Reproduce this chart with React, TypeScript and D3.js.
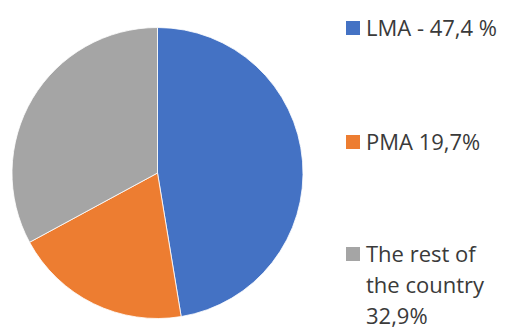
import React from "react";
import * as d3 from "d3";

const labels = ["LMA", "PMA", "The rest of the country"];
const values = [47.4, 19.7, 32.9];
const legendLines = [["LMA - 47,4 %"], ["PMA 19,7%"], ["The rest of", "the country", "32,9%"]];
const colors = ["#4472C4", "#ED7D31", "#A5A5A5"];

export default function App() {
  const W = 510, H = 332;
  const cx = 157.5, cy = 173, r = 145.5;
  const pie = d3.pie<number>().sort(null).value((d) => d)(values);
  const arc = d3.arc<d3.PieArcDatum<number>>().innerRadius(0).outerRadius(r);
  const baselines = [36, 150, 262];
  const lineH = 31;
  return (
    <svg width={W} height={H} style={{ position: "absolute", left: 0, top: 0, background: "#fff" }}>
      <g transform={`translate(${cx},${cy})`}>
        {pie.map((p, i) => (
          <path key={labels[i]} d={arc(p) || ""} fill={colors[i]} stroke="#fff" strokeWidth={0.8} />
        ))}
      </g>
      {legendLines.map((lines, i) => (
        <g key={labels[i]}>
          <rect x={346} y={baselines[i] - 15} width={14} height={14} fill={colors[i]} />
          {lines.map((t, j) => (
            <text key={j} x={366} y={baselines[i] + j * lineH} fontFamily="'Open Sans', sans-serif" fontSize={22} fill="#3a3a3a">
              {t}
            </text>
          ))}
        </g>
      ))}
    </svg>
  );
}
